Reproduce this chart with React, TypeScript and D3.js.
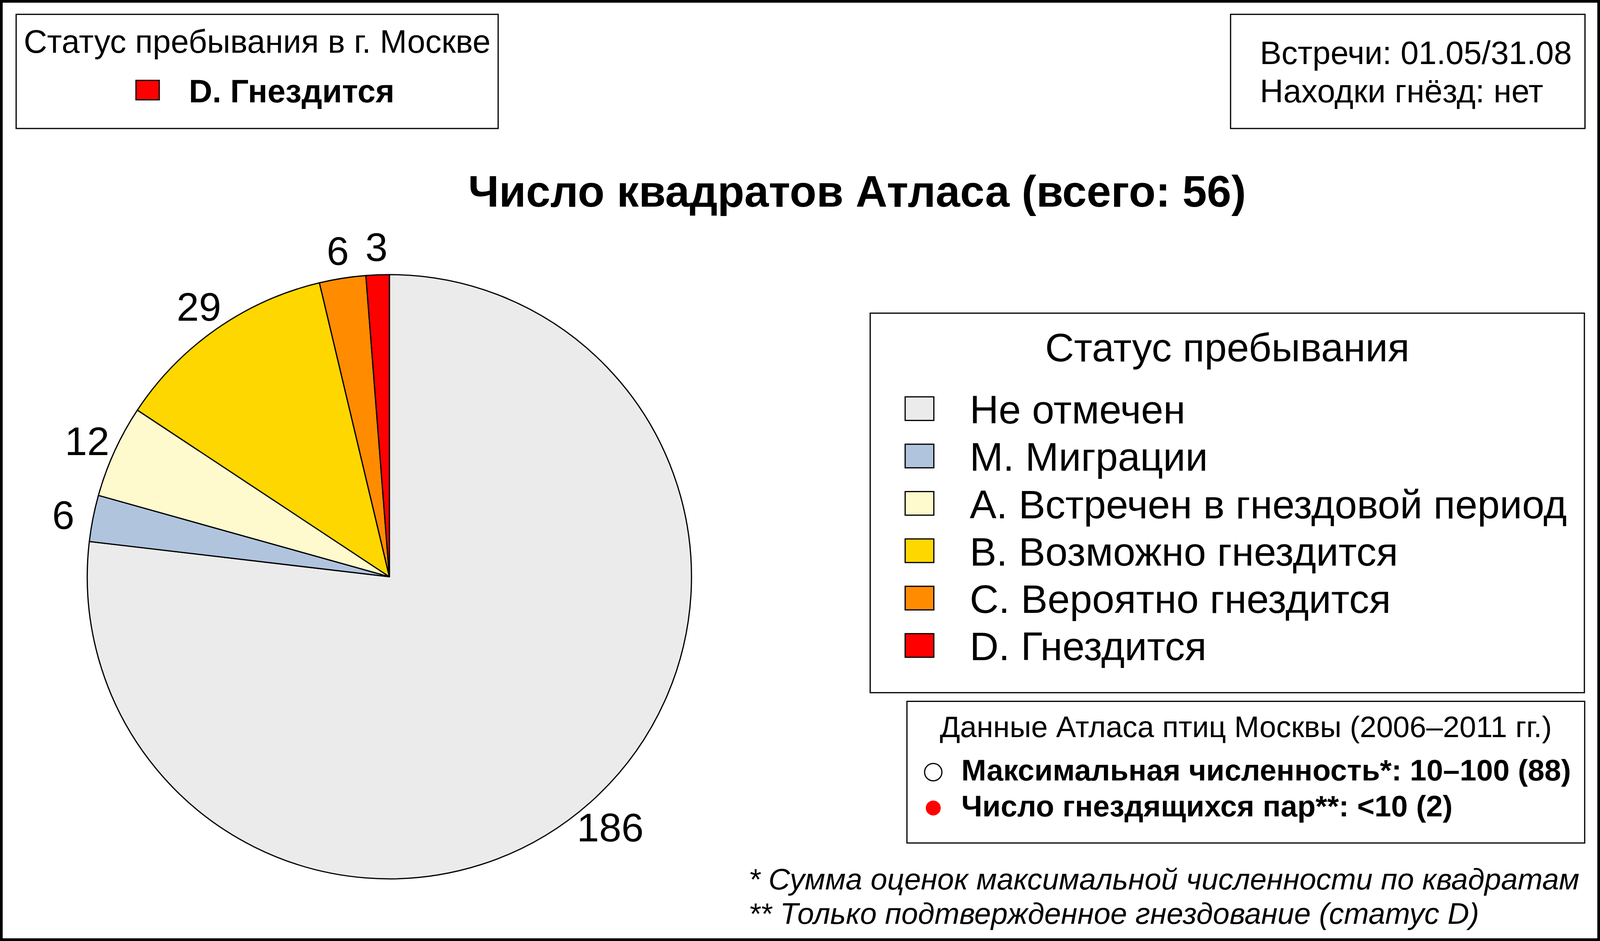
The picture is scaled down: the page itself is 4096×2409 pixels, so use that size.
import React, { useEffect } from 'react';
import * as d3 from 'd3';

// status categories, in the order the pie is drawn (clockwise from 12 o'clock)
const categories: string[] = [
  'Не отмечен',
  'M. Миграции',
  'A. Встречен в гнездовой период',
  'B. Возможно гнездится',
  'C. Вероятно гнездится',
  'D. Гнездится',
];
const squareCounts: number[] = [186, 6, 12, 29, 6, 3];
const statusColors: string[] = ['#EBEBEB', '#B0C4DE', '#FFFACD', '#FFD700', '#FF8C00', '#FF0000'];

const cityStatusTitle = 'Статус пребывания в г. Москве';
const cityStatusIndex = 5;
const infoLines: string[] = ['Встречи: 01.05/31.08', 'Находки гнёзд: нет'];
const atlasTitle = 'Данные Атласа птиц Москвы (2006–2011 гг.)';
const atlasLines: string[] = ['Максимальная численность*: 10–100 (88)', 'Число гнездящихся пар**: <10 (2)'];
const atlasMarkers: string[] = ['open', 'red'];
const footnotes: string[] = [
  '* Сумма оценок максимальной численности по квадратам',
  '** Только подтвержденное гнездование (статус D)',
];

const W = 4096;
const H = 2409;
// layout was measured on the 5354 px wide original
const s = (v: number) => v * 0.765;
const FONT = '"Liberation Sans", Arial, Helvetica, sans-serif';

type Slice = { name: string; value: number; color: string };
const slices: Slice[] = categories.map((name, i) => ({ name, value: squareCounts[i], color: statusColors[i] }));

function PieChart() {
  const cx = s(1303);
  const cy = s(1930);
  const radius = s(1011);

  const pie = d3.pie<Slice>().sort(null).value(d => d.value);
  const arcs = pie(slices);
  const arc = d3.arc<d3.PieArcDatum<Slice>>().innerRadius(0).outerRadius(radius);
  const labelArc = d3.arc<d3.PieArcDatum<Slice>>().innerRadius(radius * 1.1).outerRadius(radius * 1.1);
  const labelSize = s(134);

  return (
    <g transform={`translate(${cx},${cy})`}>
      {arcs.map((a, i) => (
        <path key={i} d={arc(a) || ''} fill={a.data.color} stroke="#000" strokeWidth={s(4)} strokeLinejoin="round" />
      ))}
      {arcs.map((a, i) => {
        const [lx, ly] = labelArc.centroid(a);
        return (
          <text key={'l' + i} x={lx} y={ly + labelSize * 0.41} textAnchor="middle" fontSize={labelSize}>
            {a.data.value}
          </text>
        );
      })}
    </g>
  );
}

function StatusLegend() {
  const x0 = s(2912), y0 = s(1048), x1 = s(5302), y1 = s(2318);
  const fs = s(134);
  const row = d3.scaleLinear().domain([0, 1]).range([s(1417), s(1417 + 158.5)]);
  return (
    <g>
      <rect x={x0} y={y0} width={x1 - x0} height={y1 - y0} fill="#fff" stroke="#000" strokeWidth={s(4)} />
      <text x={(x0 + x1) / 2} y={s(1209)} textAnchor="middle" fontSize={fs}>Статус пребывания</text>
      {categories.map((c, i) => (
        <g key={c}>
          <rect x={s(3029)} y={row(i) - s(89)} width={s(96)} height={s(79)} fill={statusColors[i]} stroke="#000" strokeWidth={s(4)} />
          <text x={s(3245)} y={row(i)} fontSize={fs}>{c}</text>
        </g>
      ))}
    </g>
  );
}

function App() {
  useEffect(() => {
    document.body.style.margin = '0';
  }, []);

  const total = d3.sum(squareCounts.slice(1));
  const smallFs = s(108.5);
  const atlasFs = s(100);
  const atlasRow = d3.scaleLinear().domain([0, 1]).range([s(2612), s(2732)]);
  const footRow = d3.scaleLinear().domain([0, 1]).range([s(2976), s(3092)]);
  const infoRow = d3.scaleLinear().domain([0, 1]).range([s(215), s(342)]);

  return (
    <svg width={W} height={H} viewBox={`0 0 ${W} ${H}`} style={{ display: 'block' }} fontFamily={FONT}>
      <rect x={0} y={0} width={W} height={H} fill="#fff" />

      {/* top-left: status in Moscow */}
      <rect x={s(54)} y={s(48)} width={s(1667 - 54)} height={s(430 - 48)} fill="#fff" stroke="#000" strokeWidth={s(4)} />
      <text x={s((54 + 1667) / 2)} y={s(177)} textAnchor="middle" fontSize={smallFs}>{cityStatusTitle}</text>
      <rect x={s(455)} y={s(269)} width={s(78)} height={s(65)} fill={statusColors[cityStatusIndex]} stroke="#000" strokeWidth={s(4)} />
      <text x={s(632)} y={s(342)} fontSize={smallFs} fontWeight="bold">{categories[cityStatusIndex]}</text>

      {/* top-right: dates */}
      <rect x={s(4118)} y={s(48)} width={s(5304 - 4118)} height={s(430 - 48)} fill="#fff" stroke="#000" strokeWidth={s(4)} />
      {infoLines.map((t, i) => (
        <text key={t} x={s(4216)} y={infoRow(i)} fontSize={smallFs}>{t}</text>
      ))}

      <text x={s(2868)} y={s(692)} textAnchor="middle" fontSize={s(147)} fontWeight="bold">
        {`Число квадратов Атласа (всего: ${total})`}
      </text>

      <PieChart />
      <StatusLegend />

      {/* atlas data box */}
      <rect x={s(3035)} y={s(2347)} width={s(5303 - 3035)} height={s(2821 - 2347)} fill="#fff" stroke="#000" strokeWidth={s(4)} />
      <text x={s((3035 + 5303) / 2)} y={s(2467)} textAnchor="middle" fontSize={atlasFs}>{atlasTitle}</text>
      {atlasLines.map((t, i) => (
        <g key={t}>
          {atlasMarkers[i] === 'open'
            ? <circle cx={s(3123)} cy={atlasRow(i) - s(28)} r={s(29)} fill="none" stroke="#000" strokeWidth={s(4)} />
            : <circle cx={s(3123)} cy={atlasRow(i) - s(28)} r={s(25)} fill="#FF0000" />}
          <text x={s(3217)} y={atlasRow(i)} fontSize={atlasFs} fontWeight="bold">{t}</text>
        </g>
      ))}

      {footnotes.map((t, i) => (
        <text key={t} x={s(2505)} y={footRow(i)} fontSize={atlasFs} fontStyle="italic">{t}</text>
      ))}

      {/* outer frame */}
      <rect x={s(4.5)} y={s(4.5)} width={W - s(9)} height={H - s(9)} fill="none" stroke="#000" strokeWidth={s(9)} />
    </svg>
  );
}

export default App;
